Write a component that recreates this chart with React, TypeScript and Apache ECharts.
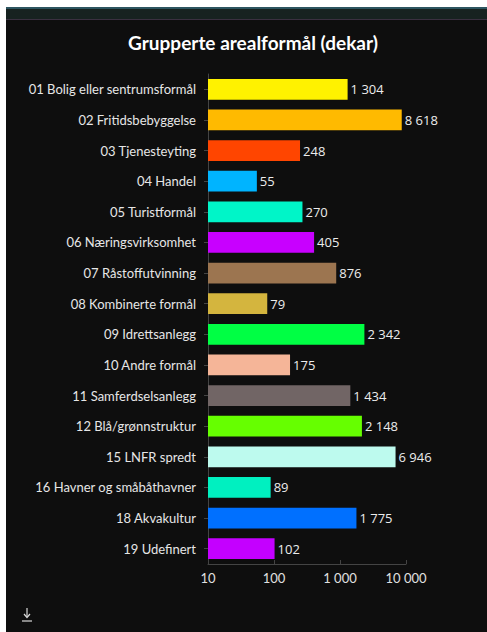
import React, { useEffect, useRef } from "react";
import * as echarts from "echarts";

const titleText = "Grupperte arealformål (dekar)";

const categories = [
  "01 Bolig eller sentrumsformål",
  "02 Fritidsbebyggelse",
  "03 Tjenesteyting",
  "04 Handel",
  "05 Turistformål",
  "06 Næringsvirksomhet",
  "07 Råstoffutvinning",
  "08 Kombinerte formål",
  "09 Idrettsanlegg",
  "10 Andre formål",
  "11 Samferdselsanlegg",
  "12 Blå/grønnstruktur",
  "15 LNFR spredt",
  "16 Havner og småbåthavner",
  "18 Akvakultur",
  "19 Udefinert",
];

const values = [1304, 8618, 248, 55, 270, 405, 876, 79, 2342, 175, 1434, 2148, 6946, 89, 1775, 102];

const barColors = [
  "#fff200",
  "#ffba00",
  "#ff4500",
  "#00b4ff",
  "#00f5c8",
  "#c800ff",
  "#9c7550",
  "#d4b53e",
  "#00ff44",
  "#f5b598",
  "#716565",
  "#66ff00",
  "#bdfaee",
  "#00f0c0",
  "#0070ff",
  "#c400ff",
];

const xTicks = [10, 100, 1000, 10000];

const fmt = (n: number) => String(Math.round(n)).replace(/\B(?=(\d{3})+(?!\d))/g, " ");

export default function App() {
  const ref = useRef<HTMLDivElement>(null);

  useEffect(() => {
    document.body.style.margin = "0";
    if (!ref.current) return;
    const chart = echarts.init(ref.current, undefined, { renderer: "svg" });
    chart.setOption({
      animation: false,
      backgroundColor: "transparent",
      grid: { left: 208, right: 81, top: 74, bottom: 68, containLabel: false },
      graphic: [
        {
          type: "text",
          x: 253,
          y: 42,
          style: {
            text: titleText,
            textAlign: "center",
            textVerticalAlign: "middle",
            fill: "#ffffff",
            font: "bold 19px Lato, 'Open Sans', sans-serif",
          },
        },
        {
          type: "line",
          shape: { x1: 27, y1: 608, x2: 27, y2: 617 },
          style: { stroke: "#d8d8d8", lineWidth: 1.2 },
        },
        {
          type: "polyline",
          shape: { points: [[24, 614], [27, 617.5], [30, 614]] },
          style: { stroke: "#d8d8d8", lineWidth: 1.2, fill: "none" },
        },
        {
          type: "line",
          shape: { x1: 22, y1: 621, x2: 32, y2: 621 },
          style: { stroke: "#d8d8d8", lineWidth: 1.2 },
        },
      ],
      xAxis: {
        type: "log",
        logBase: 10,
        min: xTicks[0],
        max: xTicks[xTicks.length - 1],
        axisLine: { show: true, lineStyle: { color: "#444" } },
        axisTick: { show: true, length: 4, inside: true, lineStyle: { color: "#444" } },
        splitLine: { show: false },
        axisLabel: {
          color: "#e0e0e0",
          fontSize: 13,
          fontFamily: "Lato, 'Open Sans', sans-serif",
          margin: 7,
          formatter: (v: number) => fmt(v),
        },
      },
      yAxis: {
        type: "category",
        inverse: true,
        data: categories,
        axisLine: { show: true, lineStyle: { color: "#444" } },
        axisTick: { show: true, alignWithLabel: true, length: 4, lineStyle: { color: "#444" } },
        axisLabel: {
          color: "#e6e6e6",
          fontSize: 13,
          fontFamily: "Lato, 'Open Sans', sans-serif",
          margin: 12,
        },
      },
      series: [
        {
          type: "bar",
          data: values.map((v, i) => ({ value: v, itemStyle: { color: barColors[i] } })),
          barWidth: "68%",
          label: {
            show: true,
            position: "right",
            distance: 3,
            color: "#ececec",
            fontSize: 13,
            fontFamily: "'Open Sans', sans-serif",
            formatter: (p: any) => fmt(p.value),
          },
        },
      ],
    });
    return () => chart.dispose();
  }, []);

  return (
    <div style={{ position: "relative", width: 487, height: 632, background: "#ffffff", overflow: "hidden" }}>
      <div style={{ position: "absolute", left: 6, top: 7, right: 0, bottom: 0, background: "#0e0e0e" }} />
      <div style={{ position: "absolute", left: 6, top: 7, right: 0, height: 2, background: "#2d5560" }} />
      <div style={{ position: "absolute", left: 6, top: 9, right: 0, height: 10, background: "#172220" }} />
      <div style={{ position: "absolute", left: 6, top: 19, right: 0, height: 1, background: "#3a3040" }} />
      <div ref={ref} style={{ position: "absolute", left: 0, top: 0, width: 487, height: 632 }} />
    </div>
  );
}
